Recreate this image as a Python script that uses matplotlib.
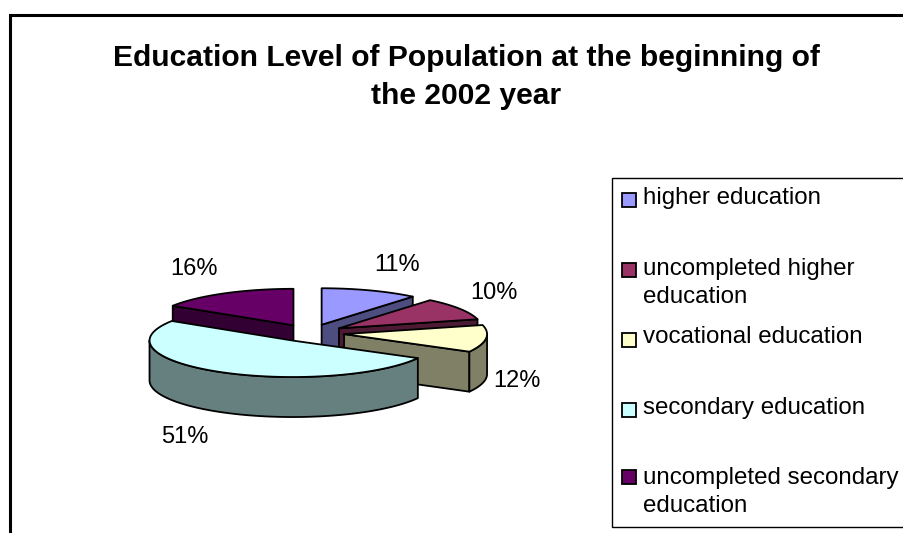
import numpy as np
import matplotlib
matplotlib.use('Agg')
import matplotlib.pyplot as plt
from matplotlib.patches import Polygon, Rectangle
from matplotlib.colors import to_rgb

plt.rcParams['font.family'] = ['Liberation Sans', 'DejaVu Sans']

TITLE = 'Education Level of Population at the beginning of\nthe 2002 year'
categories = ['higher education', 'uncompleted higher\neducation', 'vocational education',
              'secondary education', 'uncompleted secondary\neducation']
shares = [11, 10, 12, 51, 16]
colors = ['#9999FF', '#993366', '#FFFFCC', '#CCFFFF', '#660066']

# --- layout, in image pixels ---
CENTER = (310, 333)
RX, RY = 143, 36.5
DEPTH = 40
EXPLODE = 0.24
DRAW_ORDER = [0, 4, 1, 2, 3]  # back to front
LABEL_POS = [(397, 265), (494, 293), (517, 381), (185, 437), (194, 269)]
LEGEND_TEXT_Y = [198, 283, 337, 408, 492]
LEGEND_SWATCH_Y = [200, 270, 340, 410, 477]


def rim_points(apex, t0, t1):
    """Points along the top arc between two angles (degrees clockwise from top)."""
    t = np.radians(np.linspace(t0, t1, 60))
    return np.column_stack([apex[0] + RX * np.sin(t), apex[1] - RY * np.cos(t)])


def face(ax, pts, color):
    ax.add_patch(Polygon(pts, closed=True, facecolor=color, edgecolor='black', linewidth=1.3, joinstyle='round'))


def draw_slice(ax, start, end, color):
    mid = np.radians((start + end) / 2)
    apex = np.array([CENTER[0] + EXPLODE * RX * np.sin(mid), CENTER[1] - EXPLODE * RY * np.cos(mid)])
    dark = tuple(c * 0.5 for c in to_rgb(color))
    down = np.array([0, DEPTH])

    # radial walls facing the viewer
    for angle, sign in ((start, -1), (end, 1)):
        if sign * np.sin(np.radians(angle)) > 1e-6:
            edge = rim_points(apex, angle, angle)[0]
            face(ax, [apex, edge, edge + down, apex + down], dark)

    # outer wall, only on the front half
    t0, t1 = max(start, 90), min(end, 270)
    if t1 > t0:
        arc = rim_points(apex, t0, t1)
        face(ax, np.vstack([arc, (arc + down)[::-1]]), dark)

    face(ax, np.vstack([[apex], rim_points(apex, start, end)]), color)


def main():
    fig = plt.figure(figsize=(9.04, 5.33), dpi=100)
    ax = fig.add_axes([0, 0, 1, 1])
    ax.set_xlim(0, 904)
    ax.set_ylim(533, 0)
    ax.axis('off')

    # chart frame runs off the right and bottom of the image
    ax.add_patch(Rectangle((10.5, 14.5), 1000, 1000, facecolor='white', edgecolor='black', linewidth=2.2))

    ax.text(466.5, 77, TITLE, ha='center', va='center', fontsize=21.6, fontweight='bold',
            linespacing=1.5)

    edges = np.cumsum([0] + shares) * 3.6
    for i in DRAW_ORDER:
        draw_slice(ax, edges[i], edges[i + 1], colors[i])

    for share, (x, y) in zip(shares, LABEL_POS):
        ax.text(x, y, f'{share}%', ha='center', va='center', fontsize=17)

    # legend
    ax.add_patch(Rectangle((612.5, 177.5), 400, 349.5, facecolor='white', edgecolor='black', linewidth=1.0))
    for name, color, ty, sy in zip(categories, colors, LEGEND_TEXT_Y, LEGEND_SWATCH_Y):
        ax.add_patch(Rectangle((622, sy - 7), 14, 14, facecolor=color, edgecolor='black', linewidth=1.3))
        ax.text(643, ty, name, ha='left', va='center', fontsize=17.4, linespacing=1.35)

    fig.savefig('out.png', dpi=100)


if __name__ == '__main__':
    main()
